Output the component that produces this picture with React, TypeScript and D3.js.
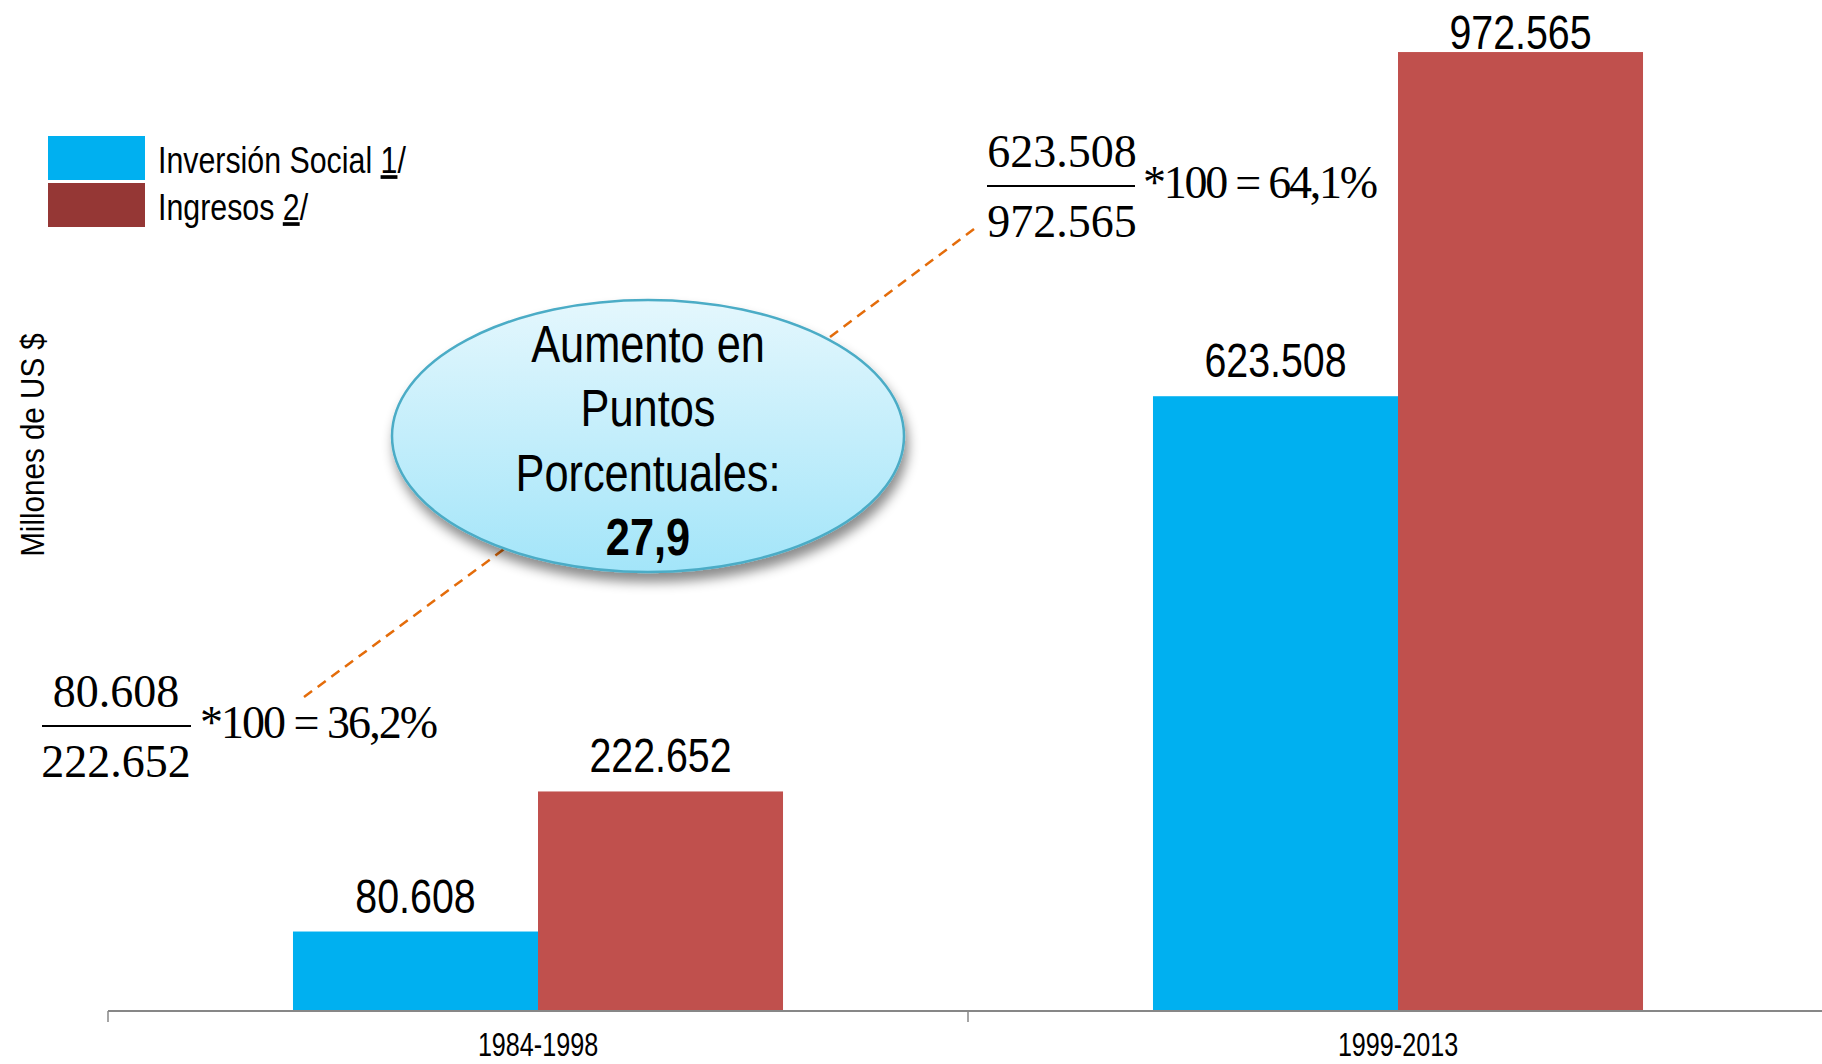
import React from 'react';
import * as d3 from 'd3';

// periods and series (millones de US $)
const categories = ['1984-1998', '1999-2013'];
const seriesNames = ['Inversión Social', 'Ingresos'];
const inversionSocial = [80608, 623508];
const ingresos = [222652, 972565];

const W = 1822;
const H = 1064;
const sans = "'Liberation Sans', Arial, sans-serif";
const serif = "'Liberation Serif', 'Times New Roman', serif";

const locale = d3.formatLocale({ decimal: ',', thousands: '.', grouping: [3], currency: ['$', ''] });
const fmtValue = locale.format(',d');
const fmtPct = locale.format('.1f');

const barColors = ['#00B0F0', '#C0504D'];
const legendColors = ['#00B0F0', '#953735'];

// no narrow font installed, so squeeze Liberation Sans horizontally
const NText = ({ x, y, sx = 0.82, anchor = 'start', size, weight, rotate, children }: any) => (
  <text
    transform={`translate(${x},${y})${rotate ? ` rotate(${rotate})` : ''} scale(${sx},1)`}
    textAnchor={anchor}
    fontFamily={sans}
    fontSize={size}
    fontWeight={weight}
    fill="#000"
  >
    {children}
  </text>
);

export default function App() {
  const margin = { top: 25, right: -6, bottom: 53, left: 108 };
  const baseline = H - margin.bottom;

  const x0 = d3.scaleBand<string>().domain(categories).range([margin.left, W - margin.right]);
  const x1 = d3.scaleBand<string>()
    .domain(seriesNames)
    .range([0, x0.bandwidth()])
    .paddingInner(0)
    .paddingOuter(0.755);
  const y = d3.scaleLinear().domain([0, 1000000]).range([baseline, margin.top]);

  const rows = categories.map((c, i) => ({ cat: c, values: [inversionSocial[i], ingresos[i]] }));
  const ratios = categories.map((_, i) => (inversionSocial[i] / ingresos[i]) * 100);
  const gain = ratios[1] - ratios[0];

  // formula annotations (numerator / denominator * 100 = ratio)
  const formulas = [
    { i: 0, cx: 116, barY: 726, barX1: 42, barX2: 191, restX: 200, restW: 238 },
    { i: 1, cx: 1062, barY: 186, barX1: 987, barX2: 1135, restX: 1143, restW: 235 },
  ];

  const ell = { cx: 648, cy: 436, rx: 256, ry: 136 };

  return (
    <svg width={W} height={H} style={{ position: 'absolute', left: 0, top: 0, background: '#fff' }}>
      <defs>
        <linearGradient id="ellFill" x1="0" y1="0" x2="0" y2="1">
          <stop offset="0%" stopColor="#E4F7FD" />
          <stop offset="100%" stopColor="#A3E5F9" />
        </linearGradient>
        <filter id="shadow" x="-20%" y="-20%" width="140%" height="150%">
          <feDropShadow dx="3" dy="9" stdDeviation="6" floodColor="#000" floodOpacity="0.45" />
        </filter>
      </defs>

      {/* bars */}
      {rows.map((r) => (
        <g key={r.cat} transform={`translate(${x0(r.cat)},0)`}>
          {r.values.map((v, j) => (
            <g key={j}>
              <rect
                x={x1(seriesNames[j])}
                y={y(v)}
                width={x1.bandwidth()}
                height={baseline - y(v)}
                fill={barColors[j]}
              />
              <NText
                x={(x1(seriesNames[j]) as number) + x1.bandwidth() / 2}
                y={Math.max(y(v) - 19, 49)}
                anchor="middle"
                size={48}
              >
                {fmtValue(v)}
              </NText>
            </g>
          ))}
        </g>
      ))}

      {/* x axis */}
      <line x1={margin.left} x2={W} y1={baseline} y2={baseline} stroke="#878787" strokeWidth={2} />
      {categories.map((c) => (
        <line key={c} x1={x0(c)} x2={x0(c)} y1={baseline} y2={baseline + 11} stroke="#878787" strokeWidth={1.5} />
      ))}
      {categories.map((c) => (
        <NText key={c} x={(x0(c) as number) + x0.bandwidth() / 2} y={baseline + 45} anchor="middle" size={34} sx={0.74}>
          {c}
        </NText>
      ))}

      {/* y axis title */}
      <NText x={44} y={445} rotate={-90} anchor="middle" size={34} sx={0.87}>
        Millones de US $
      </NText>

      {/* legend */}
      {seriesNames.map((s, i) => (
        <g key={s} transform={`translate(48,${136 + i * 47})`}>
          <rect width={97} height={44} fill={legendColors[i]} />
          <NText x={110} y={37} size={37}>
            {s} <tspan textDecoration="underline">{i + 1}</tspan>/
          </NText>
        </g>
      ))}

      {/* dashed connectors */}
      <line x1={304} y1={697} x2={511} y2={544} stroke="#E46C0A" strokeWidth={2.5} strokeDasharray="10,7" />
      <line x1={830} y1={337} x2={978} y2={226} stroke="#E46C0A" strokeWidth={2.5} strokeDasharray="10,7" />

      {/* formulas */}
      {formulas.map((f) => (
        <g key={f.i} fontFamily={serif} fill="#000">
          <text x={f.cx} y={f.barY - 19} textAnchor="middle" fontSize={46}>
            {fmtValue(inversionSocial[f.i])}
          </text>
          <line x1={f.barX1} x2={f.barX2} y1={f.barY} y2={f.barY} stroke="#000" strokeWidth={2} />
          <text x={f.cx} y={f.barY + 51} textAnchor="middle" fontSize={46}>
            {fmtValue(ingresos[f.i])}
          </text>
          <text x={f.restX} y={f.barY + 12} fontSize={46} textLength={f.restW} lengthAdjust="spacing">
            *100 = {fmtPct(ratios[f.i])}%
          </text>
        </g>
      ))}

      {/* callout ellipse */}
      <ellipse
        cx={ell.cx}
        cy={ell.cy}
        rx={ell.rx}
        ry={ell.ry}
        fill="url(#ellFill)"
        stroke="#4BACC6"
        strokeWidth={2.5}
        filter="url(#shadow)"
      />
      <NText x={ell.cx} y={362} anchor="middle" size={51} sx={0.85}>Aumento en</NText>
      <NText x={ell.cx} y={426} anchor="middle" size={51} sx={0.85}>Puntos</NText>
      <NText x={ell.cx} y={491} anchor="middle" size={51} sx={0.85}>Porcentuales:</NText>
      <NText x={ell.cx} y={555} anchor="middle" size={51} sx={0.85} weight="bold">{fmtPct(gain)}</NText>
    </svg>
  );
}
